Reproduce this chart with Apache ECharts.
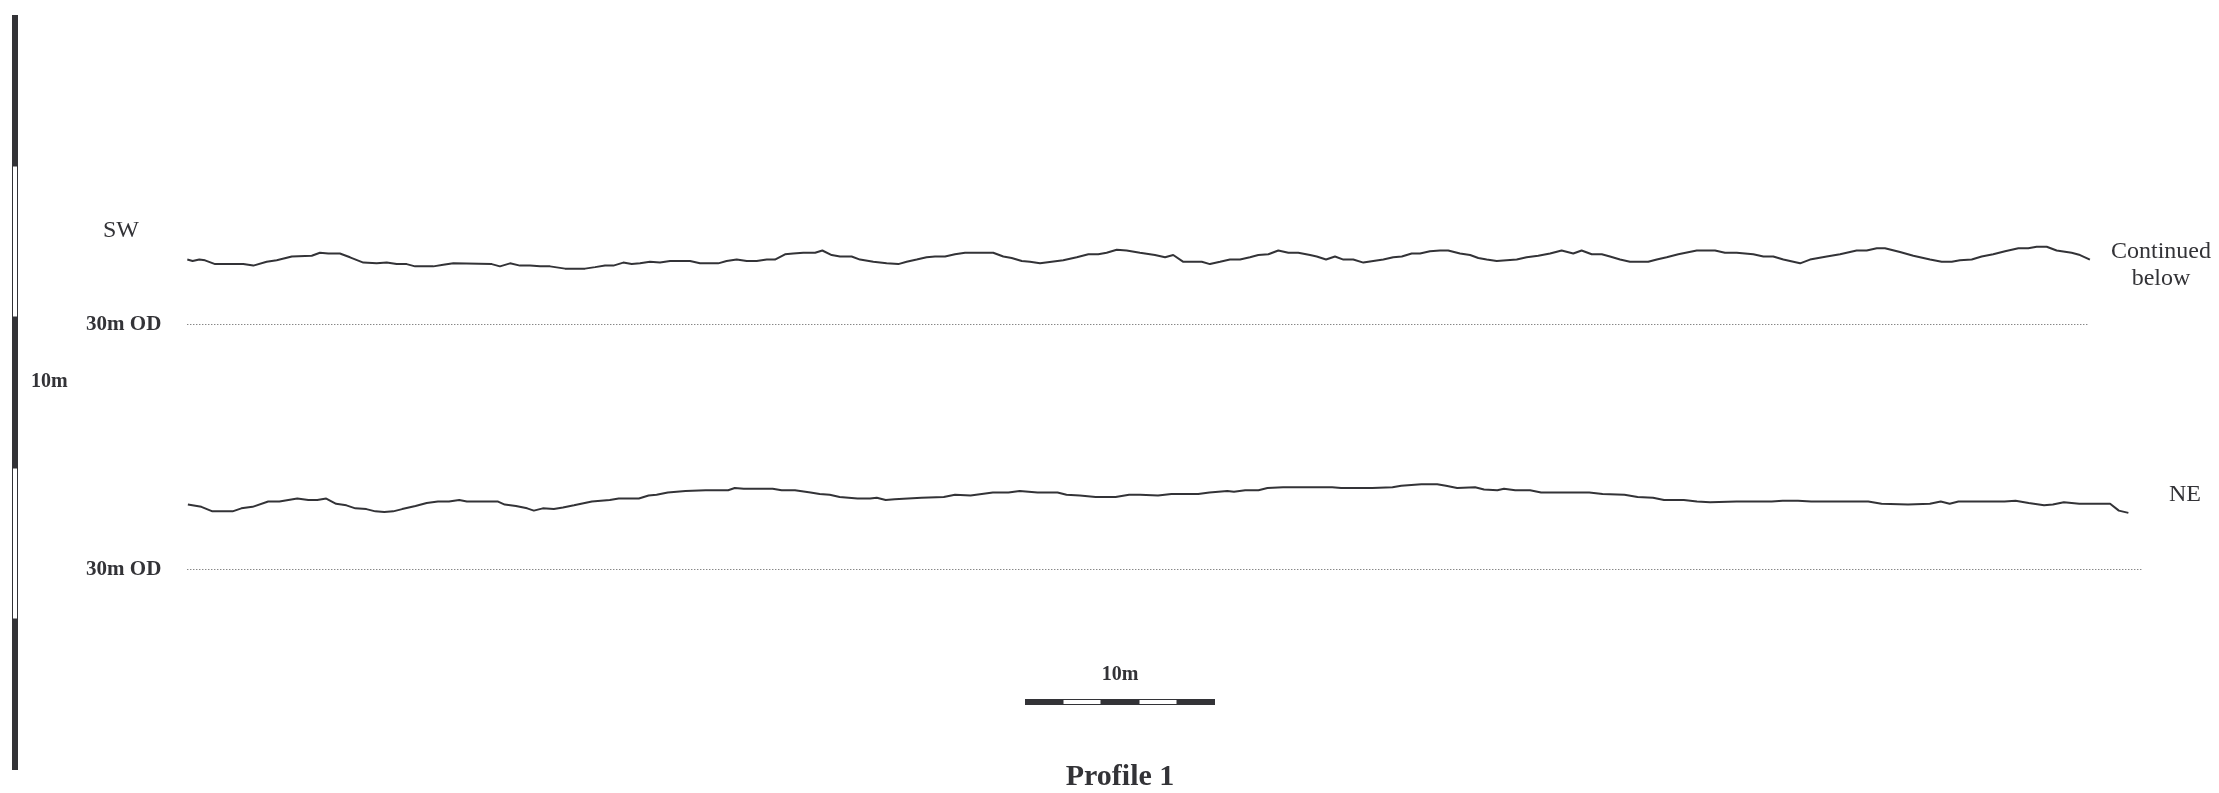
<!DOCTYPE html>
<html>
<head>
<meta charset="utf-8">
<title>Profile 1</title>
<script src="https://cdn.jsdelivr.net/npm/echarts@6/dist/echarts.min.js"></script>
<style>
  html, body { margin: 0; padding: 0; background: #fff; }
  #chart { width: 2219px; height: 793px; }
</style>
</head>
<body>
<div id="chart"></div>
<script>
// chainage (m) / level (m OD), upper run 0-100m
var topProfile = [
  [0.00, 30.86], [0.28, 30.84], [0.63, 30.86], [0.93, 30.85], [1.46, 30.80], [2.94, 30.80],
  [3.47, 30.78], [4.17, 30.83], [4.70, 30.85], [5.49, 30.90], [6.54, 30.91], [6.97, 30.95],
  [7.41, 30.94], [8.02, 30.94], [8.55, 30.89], [9.25, 30.82], [9.95, 30.81], [10.48, 30.82],
  [11.00, 30.80], [11.53, 30.80], [11.97, 30.77], [12.93, 30.77], [13.45, 30.79], [13.98, 30.81],
  [16.00, 30.80], [16.43, 30.77], [16.96, 30.81], [17.48, 30.78], [18.01, 30.78], [18.54, 30.77],
  [19.06, 30.77], [19.85, 30.74], [20.90, 30.74], [21.43, 30.76], [21.95, 30.78], [22.39, 30.78],
  [22.91, 30.82], [23.35, 30.80], [23.79, 30.81], [24.31, 30.83], [24.84, 30.82], [25.37, 30.84],
  [26.42, 30.84], [26.94, 30.81], [27.90, 30.81], [28.34, 30.84], [28.87, 30.86], [29.40, 30.84],
  [29.92, 30.84], [30.45, 30.86], [30.88, 30.86], [31.41, 30.93], [31.84, 30.94], [32.37, 30.95],
  [32.99, 30.95], [33.37, 30.98], [33.86, 30.92], [34.30, 30.90], [34.91, 30.90], [35.35, 30.86],
  [36.05, 30.83], [36.75, 30.81], [37.36, 30.80], [37.80, 30.83], [38.33, 30.86], [38.85, 30.89],
  [39.29, 30.90], [39.82, 30.90], [40.34, 30.93], [40.87, 30.95], [42.35, 30.95], [42.88, 30.90],
  [43.32, 30.88], [43.85, 30.84], [44.28, 30.83], [44.81, 30.81], [45.42, 30.83], [46.03, 30.85],
  [46.74, 30.89], [47.35, 30.93], [47.87, 30.93], [48.31, 30.95], [48.84, 30.99], [49.36, 30.98],
  [50.06, 30.95], [50.85, 30.92], [51.38, 30.89], [51.81, 30.92], [52.34, 30.83], [53.31, 30.83],
  [53.74, 30.80], [54.27, 30.83], [54.79, 30.86], [55.32, 30.86], [55.84, 30.89], [56.28, 30.92],
  [56.81, 30.93], [57.33, 30.98], [57.86, 30.95], [58.38, 30.95], [59.00, 30.92], [59.35, 30.90],
  [59.84, 30.86], [60.31, 30.90], [60.75, 30.86], [61.27, 30.86], [61.80, 30.82], [62.32, 30.84],
  [62.85, 30.86], [63.37, 30.89], [63.82, 30.90], [64.34, 30.94], [64.78, 30.94], [65.30, 30.97],
  [65.83, 30.98], [66.26, 30.98], [66.88, 30.94], [67.41, 30.92], [67.84, 30.88], [68.28, 30.86],
  [68.81, 30.84], [69.33, 30.85], [69.86, 30.86], [70.38, 30.89], [70.99, 30.91], [71.61, 30.94],
  [72.22, 30.98], [72.83, 30.94], [73.27, 30.98], [73.80, 30.93], [74.33, 30.93], [74.76, 30.90],
  [75.29, 30.86], [75.81, 30.83], [76.77, 30.83], [77.22, 30.86], [77.74, 30.89], [78.35, 30.93],
  [79.32, 30.98], [80.28, 30.98], [80.80, 30.95], [81.42, 30.95], [82.29, 30.93], [82.82, 30.90],
  [83.34, 30.90], [83.87, 30.86], [84.75, 30.81], [85.27, 30.86], [86.15, 30.90], [86.85, 30.93],
  [87.72, 30.98], [88.25, 30.98], [88.78, 31.01], [89.21, 31.01], [90.00, 30.96], [90.70, 30.91],
  [91.58, 30.86], [92.19, 30.83], [92.72, 30.83], [93.15, 30.85], [93.77, 30.86], [94.29, 30.90],
  [94.90, 30.93], [95.52, 30.97], [96.22, 31.01], [96.74, 31.01], [97.18, 31.03], [97.71, 31.03],
  [98.23, 30.98], [99.02, 30.95], [99.46, 30.92], [99.98, 30.86]
];

// lower run 100-202m
var bottomProfile = [
  [100.03, 30.86], [100.74, 30.83], [101.32, 30.77], [102.38, 30.77], [102.84, 30.81], [103.43, 30.83],
  [104.25, 30.90], [104.84, 30.90], [105.78, 30.94], [106.36, 30.92], [106.83, 30.92], [107.30, 30.94],
  [107.82, 30.87], [108.36, 30.85], [108.83, 30.81], [109.41, 30.80], [109.88, 30.77], [110.35, 30.76],
  [110.82, 30.77], [111.29, 30.80], [111.99, 30.84], [112.58, 30.88], [113.17, 30.90], [113.75, 30.90],
  [114.29, 30.92], [114.69, 30.90], [115.51, 30.90], [116.33, 30.90], [116.68, 30.86], [117.27, 30.84],
  [117.86, 30.81], [118.21, 30.78], [118.68, 30.81], [119.26, 30.80], [119.74, 30.82], [120.32, 30.85],
  [121.26, 30.90], [122.20, 30.92], [122.67, 30.94], [123.73, 30.94], [124.24, 30.98], [124.66, 30.99],
  [125.25, 31.02], [126.18, 31.04], [127.24, 31.05], [128.42, 31.05], [128.77, 31.08], [129.24, 31.07],
  [130.76, 31.07], [131.23, 31.05], [131.93, 31.05], [132.75, 31.02], [133.23, 31.00], [133.76, 30.99],
  [134.28, 30.96], [135.22, 30.94], [135.88, 30.94], [136.23, 30.95], [136.70, 30.92], [137.17, 30.93],
  [137.87, 30.94], [138.58, 30.95], [139.75, 30.96], [140.34, 30.99], [141.16, 30.98], [142.33, 31.02],
  [143.15, 31.02], [143.74, 31.04], [144.68, 31.02], [145.73, 31.02], [146.20, 30.99], [146.90, 30.98],
  [147.73, 30.96], [148.78, 30.96], [149.49, 30.99], [150.07, 30.99], [151.01, 30.98], [151.71, 31.00],
  [153.12, 31.00], [153.71, 31.02], [154.65, 31.04], [155.00, 31.03], [155.59, 31.05], [156.29, 31.05],
  [156.76, 31.08], [157.58, 31.09], [160.16, 31.09], [160.63, 31.08], [162.27, 31.08], [163.33, 31.09],
  [163.79, 31.11], [164.85, 31.13], [165.68, 31.13], [166.14, 31.11], [166.73, 31.08], [167.67, 31.09],
  [168.14, 31.06], [168.84, 31.05], [169.19, 31.07], [169.78, 31.05], [170.56, 31.05], [171.14, 31.02],
  [172.75, 31.02], [173.67, 31.02], [174.37, 31.00], [175.52, 30.99], [176.21, 30.96], [177.02, 30.95],
  [177.60, 30.92], [178.64, 30.92], [179.33, 30.90], [180.02, 30.89], [181.41, 30.90], [182.10, 30.90],
  [183.26, 30.90], [183.83, 30.91], [184.64, 30.91], [185.33, 30.90], [188.33, 30.90], [189.03, 30.87],
  [190.42, 30.86], [191.57, 30.87], [192.14, 30.90], [192.61, 30.87], [193.07, 30.90], [195.49, 30.90],
  [196.07, 30.91], [196.76, 30.88], [197.57, 30.85], [198.03, 30.86], [198.61, 30.89], [199.42, 30.87],
  [201.04, 30.87], [201.50, 30.78], [202.00, 30.75]
];

// 30m OD datum lines
var datumLevel = 30;
var topDatum = [[0, datumLevel], [99.9, datumLevel]];
var bottomDatum = [[100, datumLevel], [202.7, datumLevel]];

// scale bars: [from, to, filled]
var scaleSegments = [[0, 2, 1], [2, 4, 0], [4, 6, 1], [6, 8, 0], [8, 10, 1]];

var ink = '#333337';
var serif = '"Liberation Serif", "DejaVu Serif", serif';

function segHorizontal(params, api) {
  var p0 = api.coord([api.value(0), 1]);
  var p1 = api.coord([api.value(1), 0]);
  var filled = api.value(2) === 1;
  return {
    type: 'rect',
    shape: filled ? { x: p0[0], y: p0[1], width: p1[0] - p0[0], height: p1[1] - p0[1] }
                  : { x: p0[0], y: p0[1] + 0.5, width: p1[0] - p0[0], height: p1[1] - p0[1] - 1 },
    style: filled ? { fill: ink } : { fill: '#fff', stroke: ink, lineWidth: 1 }
  };
}

function segVertical(params, api) {
  var p0 = api.coord([0, api.value(1)]);
  var p1 = api.coord([1, api.value(0)]);
  var filled = api.value(2) === 1;
  return {
    type: 'rect',
    shape: filled ? { x: p0[0], y: p0[1], width: p1[0] - p0[0], height: p1[1] - p0[1] }
                  : { x: p0[0] + 0.5, y: p0[1], width: p1[0] - p0[0] - 1, height: p1[1] - p0[1] },
    style: filled ? { fill: ink } : { fill: '#fff', stroke: ink, lineWidth: 1 }
  };
}

var hidden = { show: false };
var odAxis = {
  type: 'value',
  min: 29.5,
  max: 31.5,
  interval: 0.5,
  axisLine: hidden,
  axisTick: hidden,
  splitLine: hidden,
  axisLabel: {
    margin: 26,
    color: ink,
    fontFamily: serif,
    fontWeight: 'bold',
    fontSize: 21,
    padding: [0, 0, 4, 0],
    formatter: function (v) { return v === datumLevel ? '30m OD' : ''; }
  }
};

var chart = echarts.init(document.getElementById('chart'));

var option = {
  animation: false,
  backgroundColor: '#fff',
  grid: [
    { left: 187.3, top: 211.25, width: 1903, height: 151, outerBoundsMode: 'none' },
    { left: 187.3, top: 456.25, width: 1954.4, height: 151, outerBoundsMode: 'none' },
    { left: 1025, top: 699, width: 190, height: 6, outerBoundsMode: 'none' },
    { left: 12, top: 15, width: 6, height: 755, outerBoundsMode: 'none' }
  ],
  xAxis: [
    { gridIndex: 0, type: 'value', min: 0, max: 100, show: false },
    { gridIndex: 1, type: 'value', min: 100, max: 202.7, show: false },
    { gridIndex: 2, type: 'value', min: 0, max: 10, show: false },
    { gridIndex: 3, type: 'value', min: 0, max: 1, show: false }
  ],
  yAxis: [
    Object.assign({ gridIndex: 0 }, odAxis),
    Object.assign({ gridIndex: 1 }, odAxis),
    { gridIndex: 2, type: 'value', min: 0, max: 1, show: false },
    { gridIndex: 3, type: 'value', min: 0, max: 10, show: false, inverse: true }
  ],
  series: [
    {
      type: 'line', xAxisIndex: 0, yAxisIndex: 0, data: topProfile,
      symbol: 'none', lineStyle: { color: ink, width: 2 }
    },
    {
      type: 'line', xAxisIndex: 1, yAxisIndex: 1, data: bottomProfile,
      symbol: 'none', lineStyle: { color: ink, width: 2 }
    },
    {
      type: 'line', xAxisIndex: 0, yAxisIndex: 0, data: topDatum,
      symbol: 'none', lineStyle: { color: '#555', width: 1, type: [1, 2] }
    },
    {
      type: 'line', xAxisIndex: 1, yAxisIndex: 1, data: bottomDatum,
      symbol: 'none', lineStyle: { color: '#555', width: 1, type: [1, 2] }
    },
    {
      type: 'custom', xAxisIndex: 2, yAxisIndex: 2, data: scaleSegments,
      renderItem: segHorizontal
    },
    {
      type: 'custom', xAxisIndex: 3, yAxisIndex: 3, data: scaleSegments,
      renderItem: segVertical
    }
  ],
  graphic: [
    { type: 'text', x: 121, y: 231, style: { text: 'SW', fill: ink, font: '24px ' + serif, align: 'center', verticalAlign: 'middle' } },
    { type: 'text', x: 31, y: 382, style: { text: '10m', fill: ink, font: 'bold 20px ' + serif, align: 'left', verticalAlign: 'middle' } },
    { type: 'text', x: 2161, y: 265, style: { text: 'Continued\nbelow', fill: ink, font: '24px ' + serif, lineHeight: 27, align: 'center', verticalAlign: 'middle' } },
    { type: 'text', x: 2185, y: 495, style: { text: 'NE', fill: ink, font: '24px ' + serif, align: 'center', verticalAlign: 'middle' } },
    { type: 'text', x: 1120, y: 675, style: { text: '10m', fill: ink, font: 'bold 20px ' + serif, align: 'center', verticalAlign: 'middle' } },
    { type: 'text', x: 1120, y: 777, style: { text: 'Profile 1', fill: ink, font: 'bold 30px ' + serif, align: 'center', verticalAlign: 'middle' } }
  ]
};

chart.setOption(option);
</script>
</body>
</html>
